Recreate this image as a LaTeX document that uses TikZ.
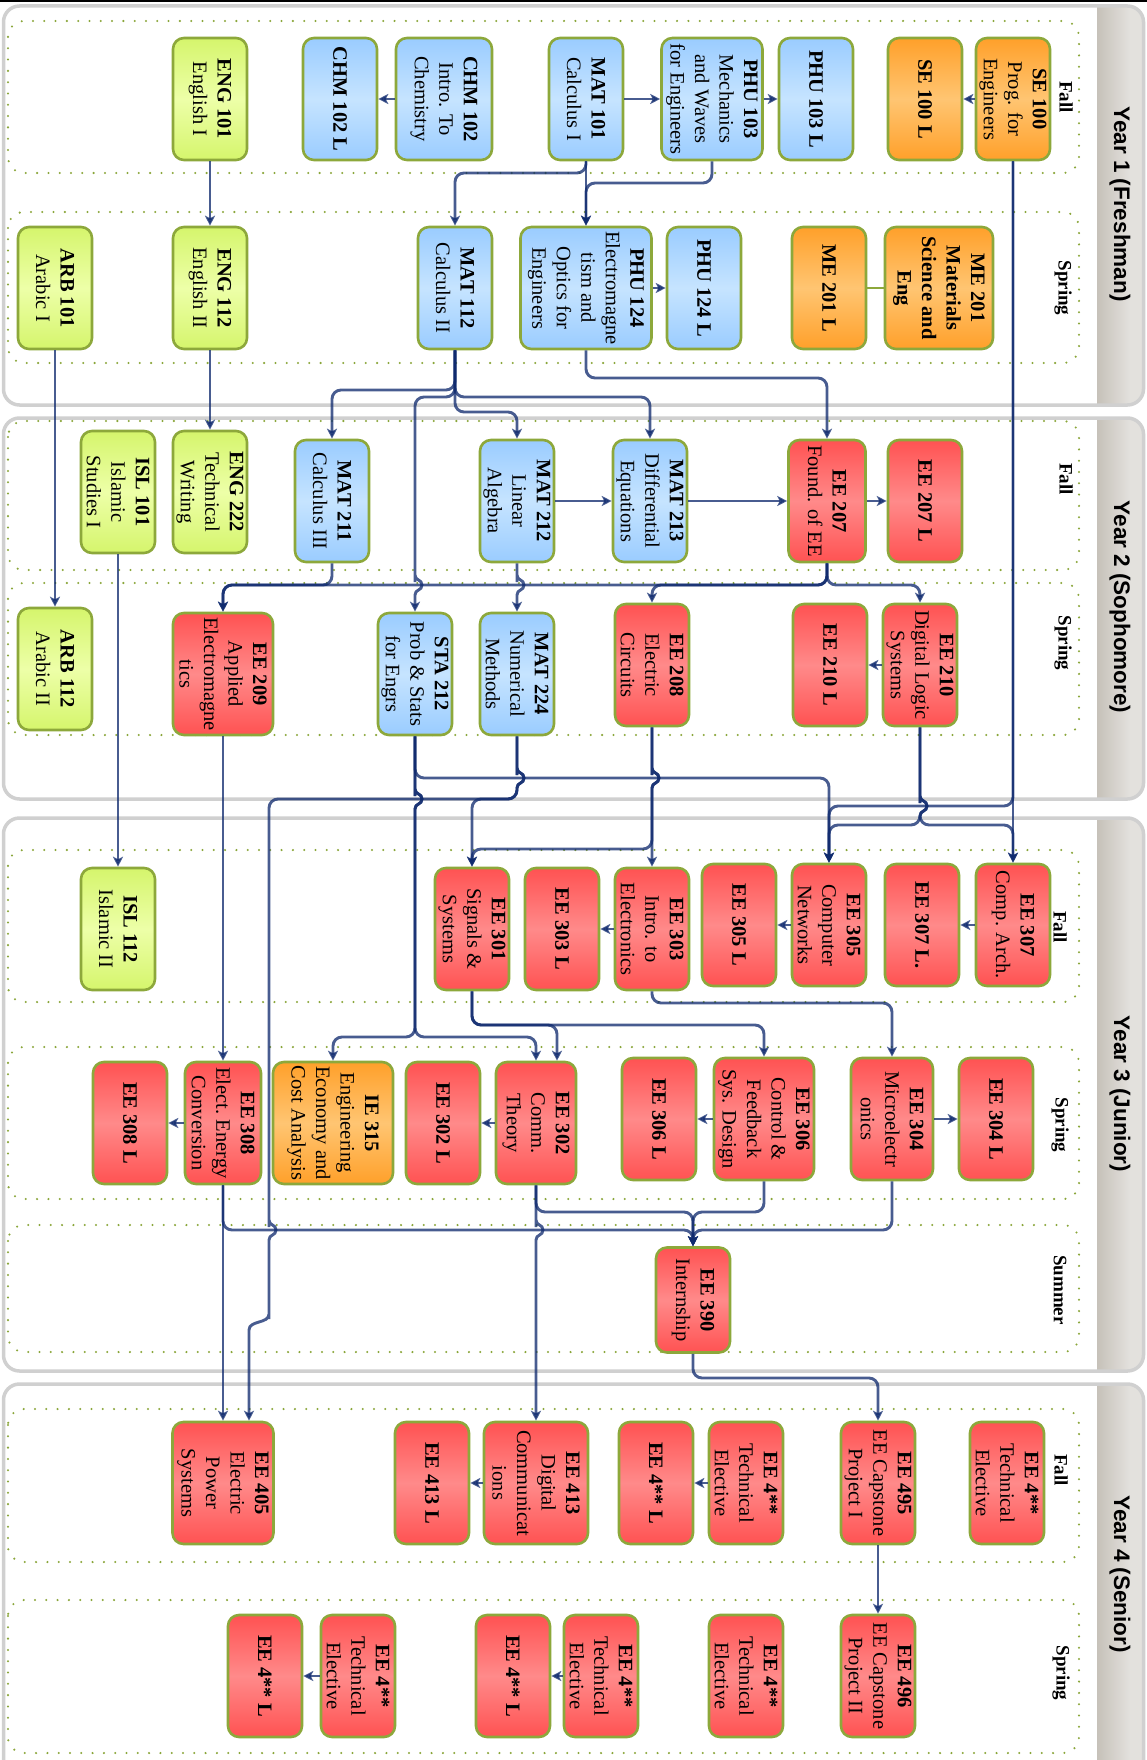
\documentclass[tikz,border=0pt]{standalone}
\usepackage{fontspec}
\setmainfont{Liberation Serif}
\newfontfamily\yearfont{Liberation Sans}
\usetikzlibrary{arrows.meta}
\definecolor{bord}{HTML}{8DA83B}
\definecolor{dotc}{HTML}{8AA63A}
\definecolor{gS}{HTML}{D5F56C}
\definecolor{gM}{HTML}{EDFFA8}
\definecolor{bS}{HTML}{9ACCFF}
\definecolor{bM}{HTML}{C6E4FF}
\definecolor{rS}{HTML}{FF5252}
\definecolor{rM}{HTML}{FF8A8A}
\definecolor{oS}{HTML}{FFA02A}
\definecolor{oM}{HTML}{FFC572}
\definecolor{lnc}{HTML}{0F2A6E}
\definecolor{pang}{HTML}{D0D0D0}
\definecolor{bandL}{HTML}{C6C1B9}
\definecolor{bandR}{HTML}{E3E1DD}
\newcommand\hopv[2]{-- (#1,#2-12) [sharp corners] -- (#1,#2-10) .. controls (#1,#2-4) and (#1+7,#2-6) .. (#1+7,#2) .. controls (#1+7,#2+6) and (#1,#2+4) .. (#1,#2+10) -- (#1,#2+12) [rounded corners=9pt]}
\begin{document}
\begin{tikzpicture}[x=1pt,y=-1pt,
  crs/.style={rotate=-90, draw=bord, line width=2.6pt, rounded corners=11pt, minimum width=122pt, minimum height=74pt, align=center, inner sep=2pt, text=black, font=\fontsize{20.5}{24.5}\selectfont},
  gnode/.style={crs, top color=gS, bottom color=gS, middle color=gM},
  bnode/.style={crs, top color=bS, bottom color=bS, middle color=bM},
  rnode/.style={crs, top color=rS, bottom color=rS, middle color=rM},
  onode/.style={crs, top color=oS, bottom color=oS, middle color=oM},
  conn/.style={draw=lnc, opacity=0.76, line width=2.9pt, rounded corners=9pt, -{Stealth[length=10pt,width=10pt,inset=2.5pt]}},
  lnk/.style={draw=bord, line width=2.8pt},
  panel/.style={draw=pang, line width=3.5pt, rounded corners=16pt},
  sem/.style={draw=dotc, line width=2.3pt, dash pattern=on 0pt off 11.3pt, line cap=round, rounded corners=16pt},
  semlab/.style={rotate=-90, font=\bfseries\fontsize{19}{21}\selectfont},
  yearlab/.style={rotate=-90, font=\yearfont\bfseries\fontsize{22.5}{25}\selectfont}
]
\useasboundingbox (0,0) rectangle (1147,1760);
\clip (0,0) rectangle (1147,1760);
\fill[white] (0,0) rectangle (1147,1760);
\fill[black] (0,0) rectangle (1147,2.3);
% ---------- panels ----------
\begin{scope}
  \clip[rounded corners=16pt] (3.5,6) rectangle (1143.5,405);
  \shade[left color=bandL,right color=bandR] (1097,6) rectangle (1130,405);
  \fill[bandR] (1129.5,6) rectangle (1147,405);
\end{scope}
\draw[panel] (3.5,6) rectangle (1143.5,405);
\node[yearlab] (Y1) at (1120,204) {Year 1 (Freshman)};
\begin{scope}
  \clip[rounded corners=16pt] (3.5,418) rectangle (1143.5,799);
  \shade[left color=bandL,right color=bandR] (1097,418) rectangle (1130,799);
  \fill[bandR] (1129.5,418) rectangle (1147,799);
\end{scope}
\draw[panel] (3.5,418) rectangle (1143.5,799);
\node[yearlab] (Y2) at (1120,607) {Year 2 (Sophomore)};
\begin{scope}
  \clip[rounded corners=16pt] (3.5,818) rectangle (1143.5,1371);
  \shade[left color=bandL,right color=bandR] (1097,818) rectangle (1130,1371);
  \fill[bandR] (1129.5,818) rectangle (1147,1371);
\end{scope}
\draw[panel] (3.5,818) rectangle (1143.5,1371);
\node[yearlab] (Y3) at (1120,1094) {Year 3 (Junior)};
\begin{scope}
  \clip[rounded corners=16pt] (3.5,1384) rectangle (1143.5,1790);
  \shade[left color=bandL,right color=bandR] (1097,1384) rectangle (1130,1790);
  \fill[bandR] (1129.5,1384) rectangle (1147,1790);
\end{scope}
\draw[panel] (3.5,1384) rectangle (1143.5,1790);
\node[yearlab] (Y4) at (1120,1574) {Year 4 (Senior)};
% ---------- semesters ----------
\draw[sem] (8,21) rectangle (1079,173);
\draw[sem] (8,212) rectangle (1079,363);
\draw[sem] (8,421) rectangle (1079,570);
\draw[sem] (8,583) rectangle (1079,735);
\draw[sem] (8,850) rectangle (1079,1002);
\draw[sem] (8,1047) rectangle (1079,1199);
\draw[sem] (8,1225) rectangle (1079,1352);
\draw[sem] (8,1409) rectangle (1079,1562);
\draw[sem] (8,1600) rectangle (1079,1753);
\node[semlab] (s1) at (1066,97) {Fall};
\node[semlab] (s2) at (1063,288) {Spring};
\node[semlab] (s3) at (1066,479) {Fall};
\node[semlab] (s4) at (1063,643) {Spring};
\node[semlab] (s5) at (1060,927) {Fall};
\node[semlab] (s6) at (1060,1125) {Spring};
\node[semlab] (s7) at (1060,1290) {Summer};
\node[semlab] (s8) at (1061,1470) {Fall};
\node[semlab] (s9) at (1061,1673) {Spring};
% ---------- Year 1 ----------
\node[gnode] (ENG101) at (210,99) {\textbf{ENG 101}\\English I};
\node[bnode] (CHM102L) at (340,99) {\textbf{CHM 102 L}};
\node[bnode,minimum height=96pt] (CHM102) at (444,99) {\textbf{CHM 102}\\Intro. To\\Chemistry};
\node[bnode] (MAT101) at (586,99) {\textbf{MAT 101}\\Calculus I};
\node[bnode,minimum height=101pt] (PHU103) at (712,99) {\textbf{PHU 103}\\Mechanics\\and Waves\\for Engineers};
\node[bnode] (PHU103L) at (816,99) {\textbf{PHU 103 L}};
\node[onode] (SE100L) at (925,99) {\textbf{SE 100 L}};
\node[onode] (SE100) at (1013,99) {\textbf{SE 100}\\Prog. for\\Engineers};
\node[gnode] (ARB101) at (55,288) {\textbf{ARB 101}\\Arabic I};
\node[gnode] (ENG112) at (210,288) {\textbf{ENG 112}\\English II};
\node[bnode] (MAT112) at (455,288) {\textbf{MAT 112}\\Calculus II};
\node[bnode,minimum height=131pt] (PHU124) at (586,288) {\textbf{PHU 124}\\Electromagne\\tism and\\Optics for\\Engineers};
\node[bnode] (PHU124L) at (704,288) {\textbf{PHU 124 L}};
\node[onode] (ME201L) at (829,288) {\textbf{ME 201 L}};
\node[onode,minimum height=108pt,font=\bfseries\fontsize{20.5}{24.5}\selectfont] (ME201) at (939,288) {ME 201\\Materials\\Science and\\Eng};
% ---------- Year 2 ----------
\node[gnode] (ISL101) at (118,492) {\textbf{ISL 101}\\Islamic\\Studies I};
\node[gnode] (ENG222) at (210,492) {\textbf{ENG 222}\\Technical\\Writing};
\node[bnode] (MAT211) at (332,501) {\textbf{MAT 211}\\Calculus III};
\node[bnode] (MAT212) at (517,501) {\textbf{MAT 212}\\Linear\\Algebra};
\node[bnode] (MAT213) at (650,501) {\textbf{MAT 213}\\Differential\\Equations};
\node[rnode,minimum height=77pt] (EE207) at (827,501) {\textbf{EE 207}\\Found. of EE};
\node[rnode] (EE207L) at (925,501) {\textbf{EE 207 L}};
\node[gnode] (ARB112) at (55,669) {\textbf{ARB 112}\\Arabic II};
\node[rnode,minimum height=100pt] (EE209) at (223,674) {\textbf{EE 209}\\Applied\\Electromagne\\tics};
\node[bnode] (STA212) at (415,674) {\textbf{STA 212}\\Prob \& Stats\\for Engrs};
\node[bnode] (MAT224) at (517,674) {\textbf{MAT 224}\\Numerical\\Methods};
\node[rnode] (EE208) at (652,665) {\textbf{EE 208}\\Electric\\Circuits};
\node[rnode] (EE210L) at (830,665) {\textbf{EE 210 L}};
\node[rnode] (EE210) at (920,665) {\textbf{EE 210}\\Digital Logic\\Systems};
% ---------- Year 3 ----------
\node[gnode] (ISL112) at (118,929) {\textbf{ISL 112}\\Islamic II};
\node[rnode] (EE301) at (472,929) {\textbf{EE 301}\\Signals \&\\Systems};
\node[rnode] (EE303L) at (562,929) {\textbf{EE 303 L}};
\node[rnode] (EE303) at (652,929) {\textbf{EE 303}\\Intro. to\\Electronics};
\node[rnode] (EE305L) at (739,925) {\textbf{EE 305 L}};
\node[rnode] (EE305) at (829,925) {\textbf{EE 305}\\Computer\\Networks};
\node[rnode] (EE307L) at (922,925) {\textbf{EE 307 L.}};
\node[rnode] (EE307) at (1013,925) {\textbf{EE 307}\\Comp. Arch.};
\node[rnode] (EE308L) at (130,1123) {\textbf{EE 308 L}};
\node[rnode,minimum height=76pt] (EE308) at (223,1123) {\textbf{EE 308}\\Elect.\ Energy\\Conversion};
\node[onode,minimum height=120pt] (IE315) at (333,1123) {\textbf{IE 315}\\Engineering\\Economy and\\Cost Analysis};
\node[rnode] (EE302L) at (443,1123) {\textbf{EE 302 L}};
\node[rnode,minimum height=80pt] (EE302) at (536,1123) {\textbf{EE 302}\\Comm.\\Theory};
\node[rnode] (EE306L) at (659,1119) {\textbf{EE 306 L}};
\node[rnode,minimum height=100pt] (EE306) at (764,1119) {\textbf{EE 306}\\Control \&\\Feedback\\Sys. Design};
\node[rnode,minimum height=82pt] (EE304) at (892,1119) {\textbf{EE 304}\\Microelectr\\onics};
\node[rnode] (EE304L) at (996,1119) {\textbf{EE 304 L}};
\node[rnode,minimum width=105pt] (EE390) at (693,1300) {\textbf{EE 390}\\Internship};
% ---------- Year 4 ----------
\node[rnode,minimum height=101pt] (EE405) at (223,1483) {\textbf{EE 405}\\Electric\\Power\\Systems};
\node[rnode] (EE413L) at (432,1483) {\textbf{EE 413 L}};
\node[rnode,minimum height=104pt] (EE413) at (536,1483) {\textbf{EE 413}\\Digital\\Communicat\\ions};
\node[rnode] (EE4LA) at (656,1483) {\textbf{EE 4** L}};
\node[rnode] (EE4A) at (746,1483) {\textbf{EE 4**}\\Technical\\Elective};
\node[rnode] (EE495) at (878,1483) {\textbf{EE 495}\\EE Capstone\\Project I};
\node[rnode] (EE4B) at (1007,1483) {\textbf{EE 4**}\\Technical\\Elective};
\node[rnode] (EE4LC) at (265,1676) {\textbf{EE 4** L}};
\node[rnode] (EE4C) at (358,1676) {\textbf{EE 4**}\\Technical\\Elective};
\node[rnode] (EE4LD) at (513,1676) {\textbf{EE 4** L}};
\node[rnode] (EE4D) at (601,1676) {\textbf{EE 4**}\\Technical\\Elective};
\node[rnode] (EE4E) at (746,1676) {\textbf{EE 4**}\\Technical\\Elective};
\node[rnode] (EE496) at (878,1676) {\textbf{EE 496}\\EE Capstone\\Project II};
% ---------- connectors ----------
\draw[conn] (ENG101.east) -- (ENG112.west);
\draw[conn] (CHM102.south) -- (CHM102L.north);
\draw[conn] (MAT101.north) -- (PHU103.south);
\draw[conn] (PHU103.north) -- (PHU103L.south);
\draw[conn] (SE100.south) -- (SE100L.north);
\draw[conn] (MAT101.east) -- (586,173) -| (MAT112.west);
\draw[conn] (MAT101.east) -- (PHU124.west);
\draw[conn] (PHU103.east) -- (712,183) -| (PHU124.west);
\draw[conn] (PHU124.north) -- (PHU124L.south);
\draw[lnk] (ME201.south) -- (ME201L.north);
\draw[conn] (ENG112.east) -- (ENG222.west);
\draw[conn] (ARB101.east) -- (ARB112.west);
\draw[conn] (SE100.east) -- (EE307.west);
\draw[conn] (SE100.east) -- (1013,806) -| (EE305.west);
\draw[conn] (PHU124.east) -- (586,378) -| (EE207.west);
\draw[conn] (MAT112.east) -- (455,390) -| (MAT211.west);
\draw[conn] (MAT112.east) -- (455,397) -- (415,397) \hopv{415}{585} -- (STA212.west);
\draw[conn] (MAT112.east) -- (455,412) -| (MAT212.west);
\draw[conn] (MAT112.east) -- (455,397) -| (MAT213.west);
\draw[conn] (MAT211.east) -- (332,585) -| (EE209.west);
\draw[conn] (EE207.east) -- (827,585) -| (EE209.west);
\draw[conn] (EE207.east) -- (827,585) -| (EE208.west);
\draw[conn] (EE207.east) -- (827,585) -| (EE210.west);
\draw[conn] (MAT212.east) \hopv{517}{585} -- (MAT224.west);
\draw[conn] (MAT212.north) -- (MAT213.south);
\draw[conn] (MAT213.north) -- (EE207.south);
\draw[conn] (EE207.north) -- (EE207L.south);
\draw[conn] (EE210.south) -- (EE210L.north);
\draw[conn] (ISL101.east) -- (ISL112.west);
\draw[conn] (EE209.east) -- (EE308.west);
\draw[conn] (STA212.east) -- (415,778) -| (EE305.west);
\draw[conn] (STA212.east) \hopv{415}{799} -- (415,1037) -| (IE315.west);
\draw[conn] (STA212.east) \hopv{415}{799} -- (415,1037) -| (EE302.west);
\draw[conn] (MAT224.east) \hopv{517}{778} -- (517,799) -| (EE301.west);
\draw[conn] (MAT224.east) \hopv{517}{778} -- (517,799) -- (269,799) \hopv{269}{1230} -- (269,1310) [sharp corners] -- (269,1314) .. controls (269,1324) and (249,1320) .. (249,1330) -- (249,1334) [rounded corners=9pt] -- (EE405.west -| 249,0);
\draw[conn] (EE208.east) \hopv{652}{778} -- (652,849) -| (EE301.west);
\draw[conn] (EE208.east) \hopv{652}{778} -- (EE303.west);
\draw[conn] (EE210.east) \hopv{920}{806} -- (920,825) -| (EE305.west);
\draw[conn] (EE210.east) \hopv{920}{806} -- (920,825) -| (EE307.west);
\draw[conn] (EE301.east) -- (472,1025) -| (EE302.west -| 557,0);
\draw[conn] (EE301.east) -- (472,1025) -| (EE306.west);
\draw[conn] (EE303.east) -- (652,1003) -| (EE304.west);
\draw[conn] (EE303.south) -- (EE303L.north);
\draw[conn] (EE305.south) -- (EE305L.north);
\draw[conn] (EE307.south) -- (EE307L.north);
\draw[conn] (EE302.south) -- (EE302L.north);
\draw[conn] (EE306.south) -- (EE306L.north);
\draw[conn] (EE304.north) -- (EE304L.south);
\draw[conn] (EE308.south) -- (EE308L.north);
\draw[conn] (EE308.east) -- (223,1230) -| (EE390.west);
\draw[conn] (EE308.east) -- (EE405.west);
\draw[conn] (EE302.east) -- (536,1212) -| (EE390.west);
\draw[conn] (EE302.east) \hopv{536}{1230} -- (EE413.west);
\draw[conn] (EE306.east) -- (764,1212) -| (EE390.west);
\draw[conn] (EE304.east) -- (892,1230) -| (EE390.west);
\draw[conn] (EE390.east) -- (693,1378) -| (EE495.west);
\draw[conn] (EE495.east) -- (EE496.west);
\draw[conn] (EE413.south) -- (EE413L.north);
\draw[conn] (EE4A.south) -- (EE4LA.north);
\draw[conn] (EE4C.south) -- (EE4LC.north);
\draw[conn] (EE4D.south) -- (EE4LD.north);
\end{tikzpicture}
\end{document}
